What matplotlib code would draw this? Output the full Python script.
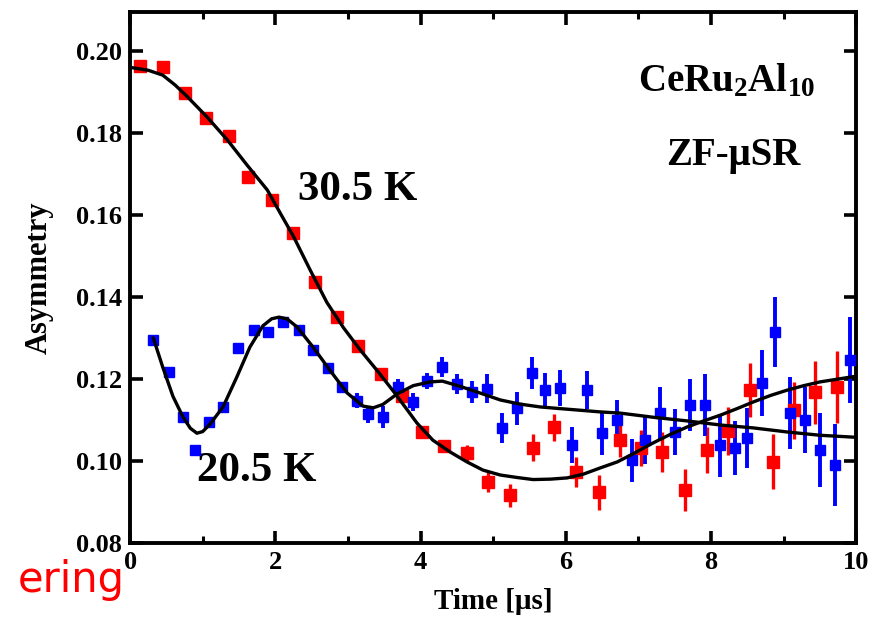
import matplotlib
matplotlib.use("Agg")
import matplotlib.pyplot as plt
from matplotlib.ticker import MultipleLocator

plt.rcParams['font.family'] = ['Liberation Serif', 'DejaVu Serif']
plt.rcParams['font.weight'] = 'bold'
plt.rcParams['mathtext.fontset'] = 'custom'
plt.rcParams['mathtext.rm'] = 'Liberation Serif:bold'
plt.rcParams['mathtext.it'] = 'Liberation Serif:bold'
plt.rcParams['mathtext.bf'] = 'Liberation Serif:bold'
plt.rcParams['mathtext.default'] = 'rm'

# ZF-muSR asymmetry, 30.5 K
t_305 = [0.14, 0.45, 0.76, 1.05, 1.36, 1.63, 1.95, 2.25, 2.55, 2.85, 3.14, 3.45,
         3.75, 4.02, 4.32, 4.64, 4.93, 5.23, 5.55, 5.84, 6.14, 6.46, 6.75, 7.03,
         7.33, 7.64, 7.94, 8.23, 8.54, 8.85, 9.15, 9.44, 9.74]
a_305 = [0.1963, 0.1961, 0.1898, 0.1837, 0.1792, 0.1692, 0.1637, 0.1556, 0.1436,
         0.1351, 0.1280, 0.1213, 0.1158, 0.1071, 0.1036, 0.1020, 0.0949, 0.0917,
         0.1033, 0.1083, 0.0973, 0.0924, 0.1051, 0.1032, 0.1022, 0.0930, 0.1027,
         0.1073, 0.1173, 0.0998, 0.1124, 0.1168, 0.1181]
e_305 = [0.0012, 0.0012, 0.0012, 0.0012, 0.0012, 0.0012, 0.0012, 0.0012, 0.0012,
         0.0012, 0.0012, 0.0012, 0.0012, 0.0012, 0.0015, 0.0020, 0.0025, 0.0028,
         0.0033, 0.0033, 0.0037, 0.0043, 0.0040, 0.0043, 0.0049, 0.0051, 0.0055,
         0.0059, 0.0065, 0.0067, 0.0069, 0.0077, 0.0087]

# ZF-muSR asymmetry, 20.5 K
t_205 = [0.32, 0.53, 0.73, 0.90, 1.08, 1.28, 1.49, 1.70, 1.90, 2.11, 2.32, 2.52,
         2.73, 2.92, 3.13, 3.28, 3.48, 3.69, 3.90, 4.09, 4.30, 4.50, 4.71, 4.92,
         5.12, 5.33, 5.54, 5.72, 5.92, 6.09, 6.29, 6.50, 6.71, 6.91, 7.09, 7.30,
         7.51, 7.71, 7.92, 8.13, 8.33, 8.50, 8.71, 8.88, 9.09, 9.30, 9.50, 9.71,
         9.92]
a_205 = [0.1295, 0.1217, 0.1107, 0.1027, 0.1095, 0.1132, 0.1276, 0.1320, 0.1315,
         0.1339, 0.1320, 0.1271, 0.1227, 0.1181, 0.1147, 0.1114, 0.1107, 0.1180,
         0.1143, 0.1196, 0.1229, 0.1188, 0.1168, 0.1177, 0.1080, 0.1129, 0.1215,
         0.1173, 0.1178, 0.1039, 0.1173, 0.1068, 0.1100, 0.1002, 0.1051, 0.1117,
         0.1071, 0.1137, 0.1137, 0.1039, 0.1032, 0.1056, 0.1190, 0.1315, 0.1117,
         0.1100, 0.1027, 0.0990, 0.1246]
e_205 = [0.0012, 0.0012, 0.0012, 0.0012, 0.0012, 0.0012, 0.0012, 0.0012, 0.0012,
         0.0012, 0.0012, 0.0012, 0.0012, 0.0012, 0.0018, 0.0020, 0.0027, 0.0020,
         0.0022, 0.0020, 0.0025, 0.0025, 0.0027, 0.0035, 0.0037, 0.0040, 0.0040,
         0.0043, 0.0043, 0.0043, 0.0047, 0.0053, 0.0050, 0.0053, 0.0057, 0.0063,
         0.0055, 0.0063, 0.0075, 0.0077, 0.0065, 0.0073, 0.0081, 0.0085, 0.0087,
         0.0080, 0.0091, 0.0100, 0.0105]

# Fit curves
fit_t_305 = [0.0, 0.25, 0.45, 0.62, 0.78, 1.06, 1.34, 1.61, 1.89, 2.07, 2.25,
             2.48, 2.71, 2.94, 3.17, 3.42, 3.65, 3.95, 4.17, 4.41, 4.64, 4.86,
             5.10, 5.33, 5.55, 5.79, 6.02, 6.24, 6.47, 6.71, 6.93, 7.20, 7.44,
             7.67, 7.90, 8.13, 8.36, 8.58, 8.82, 9.05, 9.28, 9.50, 9.75, 10.0]
fit_a_305 = [0.1960, 0.1953, 0.1941, 0.1917, 0.1890, 0.1839, 0.1783, 0.1722,
             0.1661, 0.1604, 0.1548, 0.1466, 0.1387, 0.1325, 0.1271, 0.1217,
             0.1165, 0.1093, 0.1051, 0.1022, 0.0998, 0.0978, 0.0966, 0.0960,
             0.0955, 0.0956, 0.0959, 0.0968, 0.0983, 0.0998, 0.1018, 0.1044,
             0.1065, 0.1083, 0.1098, 0.1112, 0.1128, 0.1144, 0.1160, 0.1173,
             0.1184, 0.1193, 0.1200, 0.1207]
fit_t_205 = [0.32, 0.45, 0.59, 0.73, 0.83, 0.92, 1.00, 1.10, 1.28, 1.47, 1.65,
             1.83, 1.95, 2.05, 2.16, 2.30, 2.52, 2.75, 2.99, 3.21, 3.35, 3.48,
             3.68, 3.90, 4.13, 4.30, 4.55, 4.82, 5.10, 5.37, 5.65, 5.92, 6.20,
             6.47, 6.75, 7.20, 7.67, 8.13, 8.58, 9.05, 9.50, 10.0]
fit_a_205 = [0.1300, 0.1229, 0.1158, 0.1107, 0.1080, 0.1068, 0.1072, 0.1090,
             0.1132, 0.1205, 0.1278, 0.1330, 0.1347, 0.1351, 0.1347, 0.1327,
             0.1278, 0.1222, 0.1166, 0.1134, 0.1130, 0.1138, 0.1164, 0.1184,
             0.1193, 0.1195, 0.1182, 0.1166, 0.1149, 0.1139, 0.1132, 0.1128,
             0.1124, 0.1120, 0.1117, 0.1107, 0.1098, 0.1088, 0.1081, 0.1071,
             0.1063, 0.1058]

x_ticks = [0, 2, 4, 6, 8, 10]
y_ticks = [0.08, 0.10, 0.12, 0.14, 0.16, 0.18, 0.20]
y_tick_labels = ['0.08', '0.10', '0.12', '0.14', '0.16', '0.18', '0.20']

fig = plt.figure(figsize=(8.79, 6.33), dpi=100)
ax = fig.add_axes([0.148, 0.142, 0.826, 0.839])

ax.errorbar(t_305, a_305, yerr=e_305, fmt='s', color='#ff0000', ms=8.5,
            mec='#ff0000', elinewidth=2.4, capsize=0, zorder=3)
ax.errorbar(t_205, a_205, yerr=e_205, fmt='s', color='#0000ff', ms=6.5,
            mec='#0000ff', elinewidth=2.8, capsize=0, zorder=3)
ax.plot(fit_t_305, fit_a_305, color='black', lw=2.4, zorder=4)
ax.plot(fit_t_205, fit_a_205, color='black', lw=2.4, zorder=4)

ax.set_xlim(0, 10)
ax.set_ylim(0.08, 0.2095)
ax.set_xticks(x_ticks)
ax.set_xticklabels([str(v) for v in x_ticks])
ax.xaxis.set_minor_locator(MultipleLocator(1))
ax.set_yticks(y_ticks)
ax.set_yticklabels(y_tick_labels)

for s in ax.spines.values():
    s.set_linewidth(2.8)
ax.tick_params(axis='both', which='major', direction='in', length=9, width=2.6,
               top=True, right=True, labelsize=19, pad=6)
ax.tick_params(axis='both', which='minor', direction='in', length=5, width=2.2,
               top=True, right=True)
for lab in ax.get_xticklabels() + ax.get_yticklabels():
    lab.set_fontweight('bold')

ax.set_xlabel('Time [μs]', fontsize=21, fontweight='bold', labelpad=10)
ax.set_ylabel('Asymmetry', fontsize=22, fontweight='bold', labelpad=16)

ax.text(3.13, 0.1661, '30.5 K', fontsize=31, fontweight='bold', ha='center', va='center')
ax.text(1.75, 0.0976, '20.5 K', fontsize=31, fontweight='bold', ha='center', va='center')
ax.text(8.22, 0.1925, r'CeRu$_2$Al$_{10}$', fontsize=28, fontweight='bold',
        ha='center', va='center')
ax.text(8.31, 0.1745, 'ZF-μSR', fontsize=28, fontweight='bold', ha='center', va='center')

fig.text(125 / 879, 1 - 580 / 633, 'ering', color='#ff0000', fontsize=30,
         family=['DejaVu Sans'], fontweight='normal', ha='right', va='center')

fig.savefig('out.png', dpi=100)
